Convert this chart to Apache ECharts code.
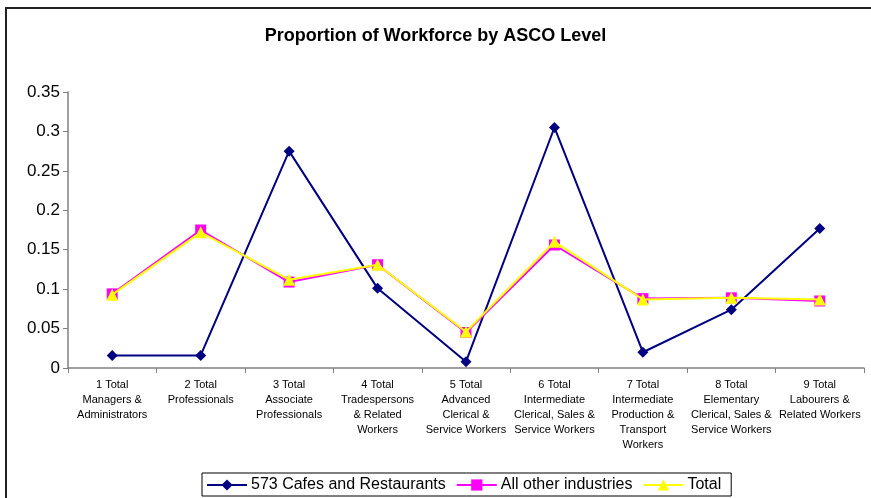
<!DOCTYPE html>
<html>
<head>
<meta charset="utf-8">
<title>Proportion of Workforce by ASCO Level</title>
<script src="https://cdn.jsdelivr.net/npm/echarts@6/dist/echarts.min.js"></script>
<style>
  html, body { margin: 0; padding: 0; background: #ffffff; }
  #chart { width: 871px; height: 498px; }
</style>
</head>
<body>
<div id="chart"></div>
<script>
// ASCO major groups (tick labels, broken over lines as printed)
const categories = [
  '1 Total\nManagers &\nAdministrators',
  '2 Total\nProfessionals',
  '3 Total\nAssociate\nProfessionals',
  '4 Total\nTradespersons\n& Related\nWorkers',
  '5 Total\nAdvanced\nClerical &\nService Workers',
  '6 Total\nIntermediate\nClerical, Sales &\nService Workers',
  '7 Total\nIntermediate\nProduction &\nTransport\nWorkers',
  '8 Total\nElementary\nClerical, Sales &\nService Workers',
  '9 Total\nLabourers &\nRelated Workers'
];

// Share of each workforce in every ASCO level
const cafesRestaurants = [0.016, 0.016, 0.275, 0.101, 0.008, 0.305, 0.020, 0.074, 0.177];
const allOtherIndustries = [0.094, 0.175, 0.109, 0.131, 0.045, 0.156, 0.088, 0.089, 0.085];
const totalWorkforce = [0.093, 0.172, 0.112, 0.131, 0.046, 0.160, 0.087, 0.089, 0.087];

const yTicks = [0, 0.05, 0.1, 0.15, 0.2, 0.25, 0.3, 0.35];

const chart = echarts.init(document.getElementById('chart'));

const font = 'Arial, "Liberation Sans", sans-serif';

chart.setOption({
  animation: false,
  backgroundColor: '#ffffff',
  title: {
    text: 'Proportion of Workforce by ASCO Level',
    left: 'center',
    top: 22,
    textStyle: { fontFamily: font, fontSize: 18, fontWeight: 'bold', color: '#000000' }
  },
  graphic: [{
    type: 'rect',
    shape: { x: 6, y: 8, width: 900, height: 520 },
    style: { fill: 'none', stroke: '#222222', lineWidth: 2 },
    silent: true,
    z: -1
  }],
  legend: {
    bottom: 2,
    left: 202,
    itemWidth: 40,
    itemHeight: 14,
    itemGap: 10,
    padding: [4, 10, 3, 4],
    borderColor: '#000000',
    borderWidth: 1,
    textStyle: { fontFamily: font, fontSize: 16, color: '#000000', padding: [0, 0, 0, -1] },
    data: ['573 Cafes and Restaurants', 'All other industries', 'Total']
  },
  grid: { left: 68, right: 7, top: 92, bottom: 130, containLabel: false },
  xAxis: {
    type: 'category',
    data: categories,
    boundaryGap: true,
    axisLine: { lineStyle: { color: '#808080', width: 1.5 } },
    axisTick: { show: true, alignWithLabel: false, length: 5, lineStyle: { color: '#808080' } },
    axisLabel: {
      interval: 0,
      margin: 9,
      fontFamily: font,
      fontSize: 11,
      lineHeight: 15,
      color: '#000000',
      align: 'center'
    }
  },
  yAxis: {
    type: 'value',
    min: yTicks[0],
    max: yTicks[yTicks.length - 1],
    interval: 0.05,
    splitLine: { show: false },
    axisLine: { show: true, lineStyle: { color: '#808080', width: 1.5 } },
    axisTick: { show: true, length: 5, lineStyle: { color: '#808080' } },
    axisLabel: {
      fontFamily: font,
      fontSize: 17,
      color: '#000000',
      margin: 8,
      formatter: v => String(parseFloat(v.toFixed(2)))
    }
  },
  series: [
    {
      name: '573 Cafes and Restaurants',
      type: 'line',
      data: cafesRestaurants,
      symbol: 'diamond',
      symbolSize: 11,
      color: '#000080',
      lineStyle: { color: '#000080', width: 2 },
      itemStyle: { color: '#000080' },
      z: 3
    },
    {
      name: 'All other industries',
      type: 'line',
      data: allOtherIndustries,
      symbol: 'rect',
      symbolSize: 11,
      color: '#ff00ff',
      lineStyle: { color: '#ff00ff', width: 2 },
      itemStyle: { color: '#ff00ff' },
      z: 4
    },
    {
      name: 'Total',
      type: 'line',
      data: totalWorkforce,
      symbol: 'triangle',
      symbolSize: 12,
      color: '#ffff00',
      lineStyle: { color: '#ffff00', width: 2 },
      itemStyle: { color: '#ffff00' },
      z: 5
    }
  ]
});
</script>
</body>
</html>
